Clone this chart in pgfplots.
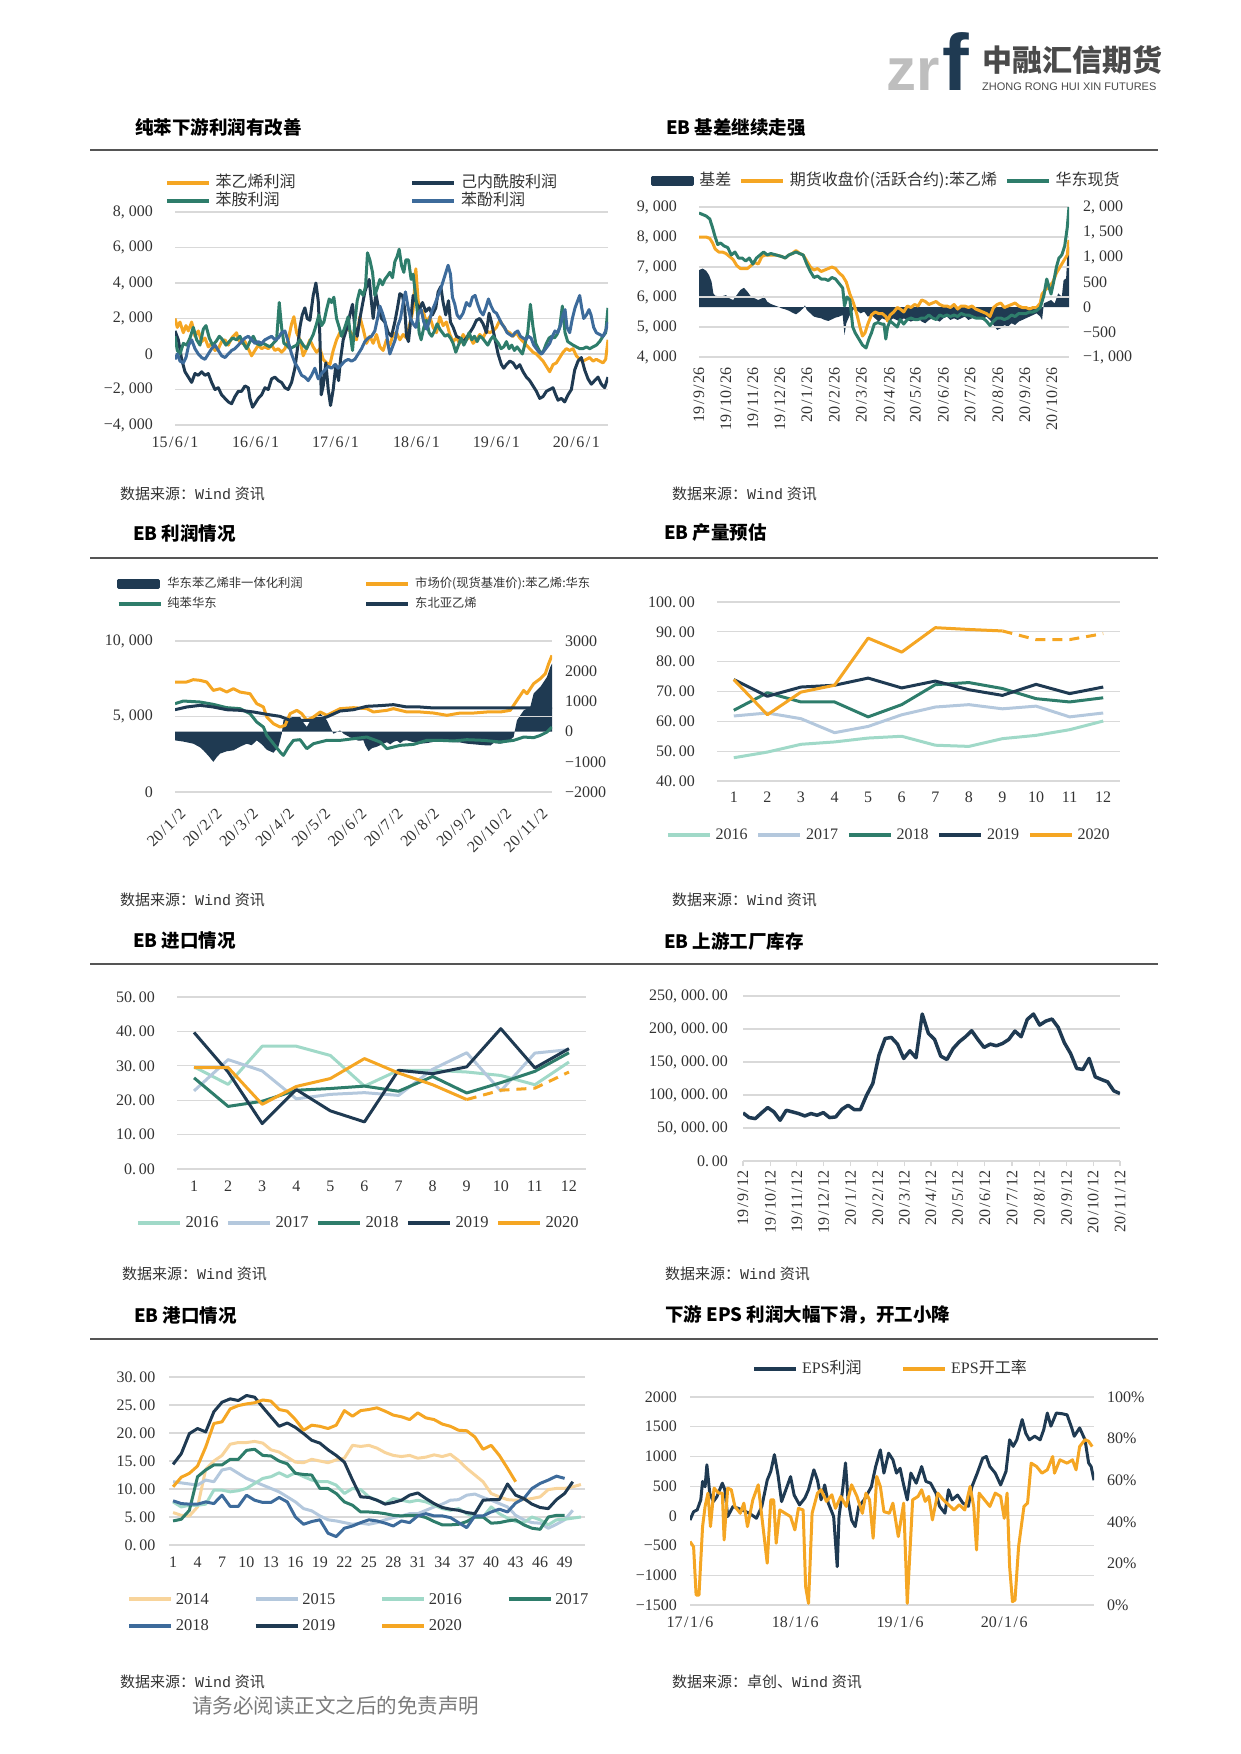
\documentclass[border=0pt]{standalone}
\usepackage{fontspec}
\setmainfont{Liberation Serif}
\setmonofont{Liberation Mono}
\newfontfamily\cjk{Noto Sans CJK SC}
\newfontfamily\logofont{Liberation Sans}
\usepackage{pgfplots}
\pgfplotsset{compat=1.18}
\usepgfplotslibrary{fillbetween}

\definecolor{navy}{HTML}{1F3A52}
\definecolor{orng}{HTML}{F5A623}
\definecolor{grn}{HTML}{2E7D6B}
\definecolor{stb}{HTML}{3D6B9B}
\definecolor{mint}{HTML}{A0D9C8}
\definecolor{lgb}{HTML}{B4C8DD}
\definecolor{peach}{HTML}{F8D49B}
\definecolor{gridc}{HTML}{D9D9D9}
\definecolor{txt}{HTML}{333333}
\definecolor{rulec}{HTML}{555555}
\definecolor{logog}{HTML}{BEBEBE}
\definecolor{logot}{HTML}{4A4A4A}
\definecolor{foot}{HTML}{7A7A7A}

\newcommand\tickf{\fontsize{16}{16}\selectfont}
\newcommand\titlef{\cjk\bfseries\fontsize{18.5}{18.5}\selectfont}
\newcommand\srcf{\fontsize{15}{15}\selectfont}
\newcommand\src[1]{{\cjk 数据来源：#1}{\ttfamily Wind} {\cjk 资讯}}
\newcommand\slh{\kern1.5pt/\kern1.5pt}

\pgfplotsset{
  base/.style={
    scale only axis, anchor=south west,
    axis line style={draw=none},
    tick style={draw=none},
    major tick length=0pt,
    scaled ticks=false,
    ymajorgrids,
    major grid style={draw=gridc, line width=1.2pt},
    tick label style={font=\tickf, text=txt},
    yticklabel style={anchor=east, inner sep=0pt},
    xticklabel style={anchor=north, inner sep=0pt},
    legend cell align=left,
    legend style={draw=none, fill=none, inner sep=0pt, outer sep=0pt, text=txt, anchor=west,
      nodes={inner sep=0pt}},
    legend image code/.code={\draw[##1, line width=3.5pt] (0pt,0pt) -- (42pt,0pt);},
    every axis plot/.append style={line width=3pt, line join=round, mark=none},
    clip mode=individual,
  },
}

\begin{document}
\begin{tikzpicture}[x=1pt, y=1pt]
\path (0,0) rectangle (1240,-1754);

% logo
\node[anchor=base west, inner sep=0, text=logog] at (886,-90) {\logofont\bfseries\fontsize{60}{60}\selectfont zr};
\node[anchor=base west, inner sep=0, text=navy] at (942,-90) {\logofont\bfseries\fontsize{80}{80}\selectfont f};
\node[anchor=west, inner sep=0, text=logot] at (982,-60) {\cjk\bfseries\fontsize{30}{30}\selectfont 中融汇信期货};
\node[anchor=base west, inner sep=0, text=logot] at (982,-90) {\logofont\fontsize{11}{11}\selectfont ZHONG RONG HUI XIN FUTURES};

% section titles and rules
\foreach \y in {150,558,964,1339} {\draw[rulec, line width=1.6pt] (90,-\y) -- (1158,-\y);}
\node[anchor=west, inner sep=0] at (135,-127) {\titlef 纯苯下游利润有改善};
\node[anchor=west, inner sep=0] at (666,-127) {\titlef EB 基差继续走强};
\node[anchor=west, inner sep=0] at (133,-533) {\titlef EB 利润情况};
\node[anchor=west, inner sep=0] at (664,-533) {\titlef EB 产量预估};
\node[anchor=west, inner sep=0] at (133,-941) {\titlef EB 进口情况};
\node[anchor=west, inner sep=0] at (664,-941) {\titlef EB 上游工厂库存};
\node[anchor=west, inner sep=0] at (134,-1315) {\titlef EB 港口情况};
\node[anchor=west, inner sep=0] at (665,-1315) {\titlef 下游 EPS 利润大幅下滑，开工小降};

% sources
\node[anchor=west, inner sep=0, text=txt, font=\srcf] at (120,-494) {\src{}};
\node[anchor=west, inner sep=0, text=txt, font=\srcf] at (672,-494) {\src{}};
\node[anchor=west, inner sep=0, text=txt, font=\srcf] at (120,-900) {\src{}};
\node[anchor=west, inner sep=0, text=txt, font=\srcf] at (672,-900) {\src{}};
\node[anchor=west, inner sep=0, text=txt, font=\srcf] at (122,-1274) {\src{}};
\node[anchor=west, inner sep=0, text=txt, font=\srcf] at (665,-1274) {\src{}};
\node[anchor=west, inner sep=0, text=txt, font=\srcf] at (120,-1682) {\src{}};
\node[anchor=west, inner sep=0, text=txt, font=\srcf] at (672,-1682) {\src{卓创、}};
\node[anchor=west, inner sep=0, text=foot] at (192,-1706) {\cjk\fontsize{20.5}{20.5}\selectfont 请务必阅读正文之后的免责声明};

% ===== chart 1 =====
\begin{axis}[base, at={(175pt,-425pt)}, width=433pt, height=213pt,
  xmin=225, xmax=1525, ymin=-4000, ymax=8000,
  xtick={225,467,707,950,1190,1430},
  xticklabels={15\slh6\slh1,16\slh6\slh1,17\slh6\slh1,18\slh6\slh1,19\slh6\slh1,20\slh6\slh1},
  xticklabel style={yshift=-12pt},
  ytick={-4000,-2000,0,2000,4000,6000,8000},
  yticklabels={{−4, 000},{−2, 000},0,{2, 000},{4, 000},{6, 000},{8, 000}},
  yticklabel style={xshift=-22pt},
  legend columns=2,
  legend style={at={(-0.023,1.094)}, font=\fontsize{16}{16}\selectfont, row sep=3.6pt,
    nodes={text height=12pt, text depth=2.4pt},
    /tikz/every odd column/.append style={column sep=5pt},
    /tikz/every even column/.append style={column sep=115pt}},
]
\addplot[orng] coordinates {(225,2000)(232,1500)(240,1800)(250,1200)(258,1600)(265,1300)(275,1800)(285,1000)(295,1300)(305,700)(315,900)(325,400)(335,600)(345,200)(355,300)(365,700)(375,800)(385,500)(395,900)(405,1100)(410,1200)(415,800)(425,600)(435,700)(445,300)(455,-100)(465,200)(475,500)(485,300)(495,400)(505,300)(515,500)(525,200)(535,300)(545,100)(555,300)(565,800)(575,1700)(582,2100)(590,1200)(600,800)(610,-100)(620,300)(630,800)(640,400)(650,100)(660,300)(670,-300)(680,-500)(690,-600)(700,200)(710,800)(720,1200)(730,1000)(740,1500)(750,1300)(760,1000)(770,800)(780,2100)(790,1400)(800,600)(810,1000)(820,600)(830,1100)(840,400)(850,200)(860,800)(870,500)(880,1100)(890,1200)(900,800)(910,1100)(920,900)(930,1700)(940,2500)(948,4800)(955,3000)(962,2500)(970,2400)(980,1800)(990,2100)(1000,1500)(1010,1200)(1020,2100)(1030,1600)(1040,1800)(1050,1100)(1060,700)(1070,900)(1080,600)(1090,1100)(1100,800)(1110,1000)(1120,600)(1130,800)(1140,1100)(1150,900)(1160,1300)(1170,1200)(1180,1300)(1190,1500)(1200,1900)(1210,1600)(1220,1300)(1230,1200)(1240,1000)(1250,1200)(1260,900)(1270,700)(1280,500)(1290,300)(1300,100)(1310,0)(1320,-200)(1330,-400)(1340,-700)(1350,-1000)(1360,-600)(1370,-500)(1380,-200)(1390,100)(1400,300)(1410,200)(1420,300)(1430,-100)(1440,-300)(1450,-400)(1460,-300)(1470,-200)(1480,-400)(1490,-300)(1500,-400)(1510,-500)(1518,-300)(1525,800)};
\addlegendentry{\cjk 苯乙烯利润}
\addplot[navy] coordinates {(225,1300)(235,800)(245,-300)(255,-1000)(265,-1300)(275,-1600)(285,-1100)(295,-1200)(305,-1000)(315,-1200)(325,-1100)(335,-1600)(345,-2000)(355,-1900)(365,-2300)(375,-2500)(385,-2700)(395,-2800)(405,-2400)(415,-2100)(425,-2100)(435,-1800)(445,-1900)(450,-2500)(458,-3000)(465,-2800)(475,-2500)(485,-2300)(495,-1900)(505,-2000)(515,-1400)(525,-1300)(535,-1500)(545,-1600)(555,-1900)(565,-2000)(575,-1600)(585,-800)(592,200)(600,1500)(607,2200)(615,2600)(622,2000)(630,1900)(640,3300)(648,4000)(655,3000)(660,1000)(664,-2300)(670,-1800)(678,-500)(685,-2000)(692,-2900)(700,-2000)(708,-600)(716,-1500)(722,-300)(730,800)(740,1400)(750,2200)(758,2800)(765,1500)(772,1000)(780,2000)(788,2800)(795,3500)(802,3900)(808,4200)(815,2900)(820,2000)(828,3400)(836,2600)(845,2000)(855,1800)(865,1200)(875,1000)(885,1800)(893,2600)(900,3400)(908,3300)(915,2500)(920,1000)(926,700)(932,1800)(940,3300)(948,3000)(958,2500)(968,2900)(978,2400)(988,2600)(998,2200)(1008,2600)(1015,3500)(1023,3800)(1030,2900)(1038,2200)(1046,3000)(1052,1800)(1060,1500)(1070,1000)(1080,900)(1090,700)(1100,900)(1110,1200)(1120,1500)(1130,1900)(1140,2000)(1150,1700)(1160,1200)(1168,2300)(1175,1800)(1185,900)(1195,0)(1205,-600)(1212,-800)(1220,-600)(1230,-400)(1240,-500)(1250,-800)(1260,-600)(1270,-1000)(1280,-1300)(1290,-1500)(1300,-1800)(1310,-2100)(1320,-2500)(1330,-2400)(1340,-2100)(1350,-2000)(1360,-1900)(1368,-2300)(1375,-2600)(1385,-2500)(1395,-2700)(1405,-2300)(1415,-2000)(1425,-900)(1435,-400)(1445,-200)(1455,-900)(1465,-1400)(1475,-1700)(1485,-1500)(1495,-1300)(1505,-1700)(1515,-1900)(1525,-1300)};
\addlegendentry{\cjk 己内酰胺利润}
\addplot[grn] coordinates {(225,1000)(232,200)(240,0)(250,600)(260,500)(270,900)(280,1500)(290,800)(300,500)(310,1400)(318,1600)(328,900)(338,500)(348,700)(358,1000)(368,800)(378,500)(388,700)(398,900)(410,800)(420,1000)(430,600)(440,300)(450,700)(460,1000)(470,600)(480,500)(490,600)(500,500)(510,400)(520,600)(530,800)(538,2900)(545,1500)(552,600)(560,500)(570,300)(580,400)(590,500)(600,800)(610,500)(620,300)(630,700)(640,1100)(650,1700)(657,2200)(665,1600)(672,1800)(680,2500)(688,3100)(695,2900)(702,3200)(710,2000)(718,1500)(725,1000)(735,1500)(745,2100)(752,1000)(758,200)(765,1800)(772,3000)(780,3600)(790,3300)(797,3800)(803,5700)(810,5300)(818,4600)(825,3300)(832,3700)(840,4200)(848,3900)(855,4200)(863,4400)(870,4600)(878,4300)(885,5200)(892,5500)(898,5900)(905,5000)(912,4600)(918,5300)(926,5300)(934,4200)(940,4500)(946,3500)(952,2500)(958,1200)(964,800)(972,1500)(980,1900)(988,1200)(996,1000)(1004,1300)(1012,1700)(1020,1400)(1028,1200)(1036,1000)(1044,1100)(1052,900)(1060,600)(1068,100)(1076,500)(1084,900)(1092,500)(1100,800)(1108,1200)(1116,800)(1124,1000)(1132,700)(1140,1000)(1148,900)(1156,700)(1164,500)(1172,800)(1180,1000)(1188,800)(1196,600)(1204,300)(1212,400)(1220,700)(1228,300)(1236,500)(1244,200)(1252,400)(1260,200)(1268,0)(1276,600)(1284,1200)(1292,2800)(1300,1500)(1308,600)(1316,300)(1324,0)(1332,200)(1340,600)(1348,900)(1356,1000)(1364,900)(1372,1100)(1380,1500)(1388,2700)(1396,1200)(1404,700)(1412,600)(1420,500)(1430,400)(1440,300)(1450,300)(1460,400)(1470,300)(1480,400)(1490,500)(1500,700)(1510,1000)(1518,1200)(1525,2600)};
\addlegendentry{\cjk 苯胺利润}
\addplot[stb] coordinates {(225,-300)(232,0)(240,-400)(250,-500)(258,-200)(266,500)(275,800)(285,300)(295,0)(305,-200)(315,-300)(325,0)(335,300)(345,500)(355,200)(365,-100)(375,-200)(385,0)(395,200)(405,300)(415,500)(425,700)(435,900)(445,1000)(455,800)(465,600)(475,700)(485,600)(495,800)(505,900)(515,1000)(525,800)(535,900)(545,1200)(555,1300)(565,700)(575,0)(585,-500)(595,-800)(605,-1200)(615,-1300)(625,-1500)(635,-1200)(645,-800)(655,-1400)(665,-1100)(675,-900)(685,-700)(695,-800)(705,-600)(715,-800)(725,-600)(735,-400)(745,-300)(755,-400)(765,-300)(775,0)(785,300)(795,700)(805,900)(815,1000)(825,1300)(833,2000)(840,2700)(848,2300)(856,1800)(864,600)(870,0)(878,400)(886,800)(894,1600)(902,2000)(910,2900)(917,3500)(924,2700)(932,2000)(940,1700)(948,1500)(956,2300)(964,2500)(972,1800)(980,1400)(988,1800)(996,2400)(1005,2800)(1015,3300)(1025,3800)(1035,4400)(1045,5000)(1052,4500)(1058,3200)(1065,2800)(1072,2200)(1080,2000)(1090,2300)(1100,2900)(1110,2700)(1118,3200)(1126,3300)(1134,2800)(1142,2400)(1150,2200)(1158,2600)(1166,3100)(1174,2700)(1182,2400)(1190,2300)(1198,2000)(1206,1700)(1214,1500)(1222,1200)(1230,1100)(1238,1000)(1246,1200)(1254,1300)(1262,1000)(1270,900)(1278,800)(1286,1000)(1294,900)(1302,500)(1310,300)(1318,100)(1326,0)(1334,200)(1342,400)(1350,600)(1358,1000)(1366,1300)(1374,1200)(1382,1600)(1390,2200)(1396,2500)(1402,1500)(1410,1200)(1418,2000)(1426,2600)(1434,3000)(1440,3300)(1446,2600)(1452,2000)(1460,2200)(1468,2500)(1474,2200)(1482,1500)(1490,1200)(1500,1100)(1510,1000)(1518,1300)(1525,1800)};
\addlegendentry{\cjk 苯酚利润}
\end{axis}

% ===== chart 2 =====
\begin{axis}[base, at={(699pt,-357pt)}, width=370pt, height=150pt,
  xmin=220, xmax=1250, ymin=4000, ymax=9000,
  xtick={220,295,370,445,520,597,672,750,822,900,975,1052,1127,1202},
  xticklabels={19\slh9\slh26,19\slh10\slh26,19\slh11\slh26,19\slh12\slh26,20\slh1\slh26,20\slh2\slh26,20\slh3\slh26,20\slh4\slh26,20\slh5\slh26,20\slh6\slh26,20\slh7\slh26,20\slh8\slh26,20\slh9\slh26,20\slh10\slh26},
  xticklabel style={yshift=-10pt, rotate=90, anchor=east},
  ytick={4000,5000,6000,7000,8000,9000},
  yticklabels={{4, 000},{5, 000},{6, 000},{7, 000},{8, 000},{9, 000}},
  yticklabel style={xshift=-22pt},
]
\addplot[draw=none] coordinates {(220,4000)(1250,9000)};
\end{axis}
\begin{axis}[base, at={(699pt,-357pt)}, width=370pt, height=150pt,
  xmin=220, xmax=1250, ymin=-1000, ymax=2000, ymajorgrids=false,
  xtick=\empty, ytick={-1000,-500,0,500,1000,1500,2000},
  yticklabels={{−1, 000},−500,0,500,{1, 000},{1, 500},{2, 000}},
  yticklabel pos=right, yticklabel style={anchor=west, xshift=14pt},
]
\addplot[draw=none, name path=jc] coordinates {(220,737)(230,770)(240,724)(248,637)(255,505)(260,272)(265,226)(280,206)(295,239)(305,173)(315,140)(325,239)(335,339)(345,385)(355,305)(365,206)(375,173)(385,140)(395,173)(400,226)(410,106)(420,60)(430,33)(440,7)(450,-27)(460,-46)(470,-73)(480,-113)(490,-146)(500,-93)(510,-27)(515,33)(520,-60)(530,-126)(540,-193)(550,-212)(560,-226)(570,-259)(580,-279)(590,-246)(600,-212)(610,-193)(620,-160)(625,-558)(630,-325)(640,-160)(650,-46)(660,-73)(670,-126)(680,-93)(690,-193)(700,-160)(710,-226)(720,-292)(730,-226)(740,-259)(750,-292)(760,-226)(770,-259)(780,-292)(790,-226)(800,-259)(810,-292)(820,-259)(830,-226)(840,-292)(850,-325)(860,-259)(870,-226)(880,-259)(890,-292)(900,-226)(910,-193)(920,-259)(930,-226)(940,-259)(950,-226)(960,-193)(970,-259)(980,-226)(990,-193)(1000,-226)(1010,-259)(1020,-193)(1030,-259)(1040,-359)(1050,-458)(1060,-425)(1070,-359)(1080,-392)(1090,-325)(1100,-359)(1110,-292)(1120,-259)(1130,-226)(1140,-193)(1150,-160)(1160,-126)(1170,-193)(1175,-259)(1180,73)(1190,106)(1200,140)(1210,73)(1220,272)(1230,206)(1235,538)(1242,571)(1246,1135)(1250,1202)};
\addplot[draw=none, name path=z2] coordinates {(220,0)(1250,0)};
\addplot[fill=navy, draw=none] fill between[of=jc and z2];
\end{axis}
\begin{axis}[base, at={(699pt,-357pt)}, width=370pt, height=150pt,
  xmin=220, xmax=1250, ymin=4000, ymax=9000, ymajorgrids=false,
  xtick=\empty, ytick=\empty,
  legend columns=-1,
  legend style={at={(-0.129,1.173)}, font=\fontsize{16}{16}\selectfont,
    nodes={text height=12pt, text depth=2.4pt},
    /tikz/every odd column/.append style={column sep=5pt},
    /tikz/every even column/.append style={column sep=8pt}},
]
\addlegendimage{legend image code/.code={\fill[navy] (0pt,-3.5pt) rectangle (40pt,3.5pt);}}
\addlegendentry{\cjk 基差}
\addplot[orng] coordinates {(220,8000)(230,8000)(240,8000)(250,7950)(258,7800)(265,7600)(275,7500)(285,7500)(295,7450)(305,7350)(315,7250)(325,7050)(335,6950)(345,6950)(355,6950)(365,7050)(375,7150)(385,7100)(395,7350)(405,7400)(420,7400)(435,7400)(450,7350)(460,7300)(470,7400)(480,7450)(490,7550)(500,7450)(510,7400)(520,7200)(530,7000)(540,6900)(550,6950)(560,6850)(570,6900)(580,6950)(590,7000)(600,6950)(610,6800)(620,6700)(630,6500)(640,6100)(650,5800)(660,5400)(668,5000)(675,4700)(682,4800)(690,5100)(700,5400)(710,5500)(720,5450)(730,5450)(740,5350)(745,5200)(752,5400)(762,5500)(772,5650)(780,5600)(790,5500)(800,5700)(810,5650)(820,5750)(830,5700)(840,5900)(850,5850)(860,5750)(870,5800)(880,5850)(890,5750)(900,5700)(910,5700)(920,5650)(930,5750)(940,5600)(950,5700)(960,5700)(970,5650)(980,5700)(990,5600)(1000,5550)(1010,5500)(1020,5450)(1030,5350)(1040,5650)(1050,5750)(1060,5800)(1070,5650)(1080,5700)(1090,5750)(1100,5800)(1110,5700)(1120,5650)(1130,5650)(1140,5600)(1150,5650)(1160,5650)(1170,5800)(1175,6100)(1185,6250)(1195,6350)(1205,6500)(1215,6800)(1225,7000)(1235,7200)(1245,7400)(1250,7900)};
\addlegendentry{{\cjk 期货收盘价(活跃合约):苯乙烯}\hspace{12pt}}
\addplot[grn] coordinates {(220,8800)(230,8750)(240,8700)(250,8600)(258,8300)(265,8000)(272,7750)(280,7800)(290,7700)(300,7650)(310,7400)(320,7500)(330,7300)(340,7300)(350,7200)(360,7300)(370,7100)(380,7300)(390,7400)(400,7500)(410,7400)(420,7450)(435,7400)(450,7350)(460,7300)(470,7400)(480,7450)(490,7500)(500,7450)(510,7400)(520,7100)(530,6850)(540,6650)(550,6700)(560,6600)(570,6600)(580,6550)(590,6650)(600,6600)(610,6450)(620,6300)(625,5700)(632,6000)(640,5900)(648,5000)(655,4800)(665,4600)(675,4400)(685,4300)(693,4600)(700,4800)(708,5100)(718,5150)(728,5100)(735,5100)(740,4600)(745,5000)(752,5200)(762,5100)(772,5000)(780,5250)(790,5100)(800,5250)(810,5300)(820,5250)(830,5250)(840,5300)(850,5300)(860,5400)(870,5300)(880,5250)(890,5400)(900,5350)(910,5400)(920,5350)(930,5400)(940,5350)(950,5450)(960,5400)(970,5400)(980,5350)(990,5300)(1000,5300)(1010,5300)(1020,5200)(1030,5050)(1040,5200)(1050,5300)(1060,5300)(1070,5250)(1080,5300)(1090,5400)(1100,5350)(1110,5450)(1120,5450)(1130,5450)(1140,5500)(1150,5500)(1160,5550)(1170,5650)(1180,6050)(1188,6600)(1195,6300)(1200,6100)(1208,6550)(1215,7000)(1222,7300)(1230,7400)(1238,7700)(1245,8300)(1250,9000)};
\addlegendentry{\cjk 华东现货}
\end{axis}

% ===== chart 3 =====
\begin{axis}[base, at={(175pt,-792pt)}, width=377pt, height=151pt,
  xmin=225, xmax=1355, ymin=0, ymax=10000,
  xtick={225,333.5,442,550.5,659,767.5,876,984.5,1093,1201.5,1310},
  xticklabels={20\slh1\slh2,20\slh2\slh2,20\slh3\slh2,20\slh4\slh2,20\slh5\slh2,20\slh6\slh2,20\slh7\slh2,20\slh8\slh2,20\slh9\slh2,20\slh10\slh2,20\slh11\slh2},
  xticklabel style={xshift=4pt, yshift=-15pt, rotate=45, anchor=north east},
  ytick={0,5000,10000}, yticklabels={0,{5, 000},{10, 000}},
  yticklabel style={xshift=-22pt},
]
\addplot[draw=none] coordinates {(225,0)(1355,10000)};
\end{axis}
\begin{axis}[base, at={(175pt,-792pt)}, width=377pt, height=151pt,
  xmin=225, xmax=1355, ymin=-2000, ymax=3000, ymajorgrids=false,
  xtick=\empty, ytick={-2000,-1000,0,1000,2000,3000},
  yticklabels={−2000,−1000,0,1000,2000,3000},
  yticklabel pos=right, yticklabel style={anchor=west, xshift=13pt},
]
\addplot[draw=none, name path=pr] coordinates {(225,-290)(250,-330)(280,-400)(300,-520)(310,-620)(325,-800)(340,-1000)(350,-850)(360,-730)(380,-650)(400,-620)(420,-500)(440,-400)(455,-450)(470,-290)(485,-420)(500,-600)(520,-700)(535,-500)(545,-70)(550,375)(565,450)(580,485)(600,485)(610,300)(620,155)(630,350)(640,485)(660,600)(680,375)(690,150)(700,-70)(720,40)(730,-70)(760,-250)(775,-300)(790,-290)(795,-450)(805,-650)(815,-550)(830,-500)(840,-450)(850,-400)(860,-350)(870,-420)(880,-340)(890,-300)(900,-380)(910,-300)(920,-290)(940,-350)(960,-400)(980,-380)(1000,-340)(1020,-320)(1050,-340)(1080,-360)(1100,-400)(1120,-420)(1150,-450)(1170,-460)(1180,-380)(1200,-400)(1220,-350)(1240,-180)(1250,375)(1270,700)(1290,820)(1300,1260)(1320,1480)(1340,1810)(1350,2140)(1355,2250)};
\addplot[draw=none, name path=z3] coordinates {(225,0)(1355,0)};
\addplot[fill=navy, draw=none] fill between[of=pr and z3];
\end{axis}
\begin{axis}[base, at={(175pt,-792pt)}, width=377pt, height=151pt,
  xmin=225, xmax=1355, ymin=0, ymax=10000, ymajorgrids=false,
  xtick=\empty, ytick=\empty,
  legend columns=2,
  legend style={at={(-0.154,1.311)}, font=\fontsize{12.3}{12.3}\selectfont, row sep=9pt,
    nodes={text height=9.2pt, text depth=1.8pt},
    /tikz/every odd column/.append style={column sep=5pt},
    /tikz/every even column/.append style={column sep=62pt}},
]
\addlegendimage{legend image code/.code={\fill[navy] (0pt,-3.5pt) rectangle (40pt,3.5pt);}}
\addlegendentry{\cjk 华东苯乙烯非一体化利润}
\addplot[orng] coordinates {(225,7285)(260,7285)(280,7440)(300,7395)(320,7285)(340,6730)(360,6840)(380,6620)(400,6840)(420,6620)(450,6510)(470,5850)(490,5630)(500,4970)(520,4525)(540,4300)(555,4415)(570,5190)(590,5410)(605,5190)(620,4745)(640,4970)(660,5300)(680,5080)(700,5300)(720,5520)(760,5585)(800,5520)(820,5300)(860,5410)(880,5520)(920,5300)(960,5300)(1000,5230)(1040,5080)(1080,5230)(1120,5230)(1160,5300)(1200,5300)(1230,5410)(1250,6070)(1270,6730)(1280,6510)(1300,7175)(1320,7505)(1335,7840)(1345,8500)(1355,9050)};
\addlegendentry{\cjk 市场价(现货基准价):苯乙烯:华东}
\addplot[grn] coordinates {(225,5850)(250,6025)(300,5960)(340,5805)(380,5585)(420,5520)(450,5190)(470,4635)(490,4305)(500,3750)(520,3200)(540,2650)(550,2430)(565,2980)(580,3420)(600,3465)(620,2870)(640,3200)(680,3420)(720,3420)(760,3530)(800,3640)(840,3310)(860,2870)(900,3090)(940,3155)(980,3420)(1020,3420)(1060,3380)(1100,3465)(1150,3420)(1200,3310)(1240,3420)(1270,3640)(1300,3600)(1320,3750)(1340,3970)(1355,4305)};
\addlegendentry{\cjk 纯苯华东}
\addplot[navy] coordinates {(225,5450)(260,5630)(300,5740)(340,5630)(380,5450)(420,5410)(460,5300)(500,5145)(540,5010)(570,4745)(600,4745)(640,4745)(680,4970)(720,5365)(760,5450)(800,5675)(840,5720)(880,5785)(920,5630)(960,5630)(1000,5565)(1100,5565)(1200,5565)(1300,5565)(1355,5585)};
\addlegendentry{\cjk 东北亚乙烯}
\end{axis}

% ===== chart 4 =====
\begin{axis}[base, at={(717pt,-781pt)}, width=403pt, height=179pt,
  xmin=0.5, xmax=12.5, ymin=40, ymax=100,
  xtick={1,2,3,4,5,6,7,8,9,10,11,12}, xticklabels={1,2,3,4,5,6,7,8,9,10,11,12},
  xticklabel style={yshift=-11pt},
  ytick={40,50,60,70,80,90,100},
  yticklabels={{40.\,00},{50.\,00},{60.\,00},{70.\,00},{80.\,00},{90.\,00},{100.\,00}},
  yticklabel style={xshift=-22pt},
  legend columns=-1,
  legend style={at={(-0.126,-0.3017)}, font=\fontsize{16}{16}\selectfont,
    nodes={text height=12pt, text depth=2.4pt},
    /tikz/every odd column/.append style={column sep=4pt},
    /tikz/every even column/.append style={column sep=9pt}},
]
\addplot[mint] coordinates {(1,47.8)(2,49.7)(3,52.3)(4,53.1)(5,54.4)(6,55.0)(7,52.0)(8,51.6)(9,54.2)(10,55.3)(11,57.2)(12,60.1)};
\addlegendentry{2016}
\addplot[lgb] coordinates {(1,61.8)(2,62.8)(3,60.9)(4,56.2)(5,58.3)(6,62.2)(7,64.8)(8,65.6)(9,64.2)(10,65.1)(11,61.5)(12,62.8)};
\addlegendentry{2017}
\addplot[grn] coordinates {(1,63.7)(2,69.6)(3,66.5)(4,66.5)(5,61.5)(6,65.6)(7,72.3)(8,73.0)(9,71.0)(10,67.6)(11,66.5)(12,67.9)};
\addlegendentry{2018}
\addplot[navy] coordinates {(1,74.0)(2,68.4)(3,71.5)(4,72.1)(5,74.5)(6,71.2)(7,73.5)(8,70.6)(9,68.7)(10,72.4)(11,69.3)(12,71.5)};
\addlegendentry{2019}
\addplot[orng] coordinates {(1,74.0)(2,62.2)(3,69.8)(4,72.1)(5,87.9)(6,83.2)(7,91.4)(8,90.8)(9,90.3)};
\addlegendentry{2020}
\addplot[orng, dash pattern=on 10pt off 7pt, forget plot] coordinates {(9,90.3)(10,87.4)(11,87.4)(12,89.4)};
\end{axis}

% ===== chart 5 =====
\begin{axis}[base, at={(177pt,-1169pt)}, width=409pt, height=172pt,
  xmin=0.5, xmax=12.5, ymin=0, ymax=50,
  xtick={1,2,3,4,5,6,7,8,9,10,11,12}, xticklabels={1,2,3,4,5,6,7,8,9,10,11,12},
  xticklabel style={yshift=-12pt},
  ytick={0,10,20,30,40,50},
  yticklabels={{0.\,00},{10.\,00},{20.\,00},{30.\,00},{40.\,00},{50.\,00}},
  yticklabel style={xshift=-22pt},
  legend columns=-1,
  legend style={at={(-0.1,-0.314)}, font=\fontsize{16.5}{16.5}\selectfont,
    nodes={text height=12.4pt, text depth=2.5pt},
    /tikz/every odd column/.append style={column sep=4pt},
    /tikz/every even column/.append style={column sep=7.5pt}},
]
\addplot[mint] coordinates {(1,29.7)(2,24.6)(3,35.7)(4,35.7)(5,33.0)(6,24.1)(7,28.7)(8,28.7)(9,28.2)(10,27.2)(11,24.5)(12,31.1)};
\addlegendentry{2016}
\addplot[lgb] coordinates {(1,22.7)(2,31.8)(3,28.5)(4,20.4)(5,21.7)(6,22.2)(7,21.4)(8,29.0)(9,33.8)(10,22.7)(11,33.7)(12,34.7)};
\addlegendentry{2017}
\addplot[grn] coordinates {(1,26.5)(2,18.2)(3,19.7)(4,22.9)(5,23.4)(6,24.1)(7,22.6)(8,26.9)(9,22.1)(10,25.1)(11,28.4)(12,33.8)};
\addlegendentry{2018}
\addplot[navy] coordinates {(1,39.7)(2,28.2)(3,13.2)(4,23.1)(5,16.9)(6,13.7)(7,28.7)(8,27.7)(9,29.7)(10,40.8)(11,29.4)(12,35.0)};
\addlegendentry{2019}
\addplot[orng] coordinates {(1,29.5)(2,29.5)(3,18.8)(4,24.0)(5,26.3)(6,32.1)(7,27.9)(8,24.5)(9,20.2)};
\addlegendentry{2020}
\addplot[orng, dash pattern=on 10pt off 7pt, forget plot] coordinates {(9,20.2)(10,22.9)(11,23.5)(12,28.2)};
\end{axis}

% ===== chart 6 =====
\begin{axis}[base, at={(743pt,-1161pt)}, width=377pt, height=165pt,
  xmin=0, xmax=61, ymin=0, ymax=250000,
  xtick={0,4.41,8.71,13.06,17.41,21.82,26.12,30.41,34.71,39.12,43.53,47.94,52.35,56.65,61},
  xticklabels={19\slh9\slh12,19\slh10\slh12,19\slh11\slh12,19\slh12\slh12,20\slh1\slh12,20\slh2\slh12,20\slh3\slh12,20\slh4\slh12,20\slh5\slh12,20\slh6\slh12,20\slh7\slh12,20\slh8\slh12,20\slh9\slh12,20\slh10\slh12,20\slh11\slh12},
  xtick pos=bottom, tick align=outside, major tick length=5pt,
  xtick style={draw=gridc, line width=1.2pt}, ytick style={draw=none},
  xticklabel style={yshift=-4pt, rotate=90, anchor=east},
  ytick={0,50000,100000,150000,200000,250000},
  yticklabels={{0.\,00},{50, 000.\,00},{100, 000.\,00},{150, 000.\,00},{200, 000.\,00},{250, 000.\,00}},
  yticklabel style={xshift=-10pt},
]
\addplot[navy, line width=3.5pt] coordinates {(0,72900)(1,65800)(2,64300)(3,72900)(4,81000)(5,74400)(6,61700)(7,76900)(8,74400)(9,71900)(10,68300)(11,71900)(12,69300)(13,73400)(14,65800)(15,66800)(16,78400)(17,84500)(18,77900)(19,77900)(20,99700)(21,117400)(22,160400)(23,185700)(24,187200)(25,177100)(26,155400)(27,167000)(28,156400)(29,222700)(30,193300)(31,184200)(32,158900)(33,153800)(34,170500)(35,180700)(36,188300)(37,197400)(38,184200)(39,172100)(40,177100)(41,174600)(42,178100)(43,184200)(44,196900)(45,188300)(46,214600)(47,222700)(48,206000)(49,212000)(50,215100)(51,202400)(52,179100)(53,163000)(54,140200)(55,138700)(56,155400)(57,127500)(58,123500)(59,119900)(60,106300)(61,102200)};
\end{axis}

% ===== chart 7 =====
\begin{axis}[base, at={(169pt,-1545pt)}, width=416pt, height=168pt,
  xmin=0.5, xmax=51.5, ymin=0, ymax=30,
  xtick={1,4,7,10,13,16,19,22,25,28,31,34,37,40,43,46,49},
  xticklabels={1,4,7,10,13,16,19,22,25,28,31,34,37,40,43,46,49},
  xticklabel style={yshift=-12pt},
  ytick={0,5,10,15,20,25,30},
  yticklabels={{0.\,00},{5.\,00},{10.\,00},{15.\,00},{20.\,00},{25.\,00},{30.\,00}},
  yticklabel style={xshift=-13.5pt},
  legend columns=4,
  legend style={at={(-0.1,-0.402)}, font=\fontsize{16.5}{16.5}\selectfont, row sep=12pt,
    nodes={text height=12.4pt, text depth=2.5pt},
    /tikz/every odd column/.append style={column sep=3pt},
    /tikz/every even column/.append style={column sep=45pt}},
]
\addplot[peach] coordinates {(1,5.8)(2,5.3)(3,5.2)(4,6.8)(5,13.5)(6,15.0)(7,16.0)(8,18.0)(9,18.3)(10,18.3)(11,18.5)(12,18.2)(13,17.0)(14,16.6)(15,15.7)(16,14.8)(17,14.7)(18,15.3)(19,15.0)(20,14.7)(21,15.2)(22,15.5)(23,17.8)(24,17.6)(25,17.8)(26,17.3)(27,16.5)(28,16.0)(29,15.8)(30,16.0)(31,15.5)(32,15.7)(33,16.1)(34,15.8)(35,16.2)(36,15.1)(37,13.7)(38,12.5)(39,11.3)(40,9.2)(41,8.6)(42,8.1)(43,8.0)(44,8.1)(45,8.3)(46,8.6)(47,9.9)(48,10.1)(49,10.1)(50,10.4)(51,10.8)};
\addlegendentry{2014}
\addplot[lgb] coordinates {(1,11.3)(2,11.1)(3,10.9)(4,10.7)(5,11.6)(6,11.3)(7,13.4)(8,13.7)(9,12.8)(10,11.9)(11,11.3)(12,10.7)(13,10.1)(14,9.5)(15,8.6)(16,7.7)(17,6.5)(18,6.1)(19,5.2)(20,4.5)(21,4.3)(22,4.0)(23,3.7)(24,3.9)(25,3.7)(26,4.0)(27,4.5)(28,4.9)(29,5.2)(30,5.6)(31,5.6)(32,6.2)(33,6.8)(34,7.3)(35,8.0)(36,8.1)(37,8.9)(38,9.1)(39,8.5)(40,8.0)(41,7.4)(42,6.8)(43,5.3)(44,4.5)(45,4.0)(46,3.9)(47,3.0)(48,3.7)(49,4.5)(50,6.2)};
\addlegendentry{2015}
\addplot[mint] coordinates {(1,7.7)(2,6.8)(3,7.1)(4,7.1)(5,7.3)(6,9.8)(7,9.8)(8,9.5)(9,9.7)(10,10.1)(11,11.0)(12,11.9)(13,12.2)(14,12.9)(15,12.2)(16,12.9)(17,12.2)(18,11.6)(19,11.3)(20,11.3)(21,10.7)(22,9.2)(23,10.1)(24,9.9)(25,8.6)(26,8.0)(27,7.4)(28,8.3)(29,8.0)(30,7.7)(31,8.0)(32,7.7)(33,7.1)(34,6.5)(35,6.2)(36,6.5)(37,5.6)(38,5.0)(39,5.0)(40,6.8)(41,5.6)(42,4.8)(43,4.2)(44,4.0)(45,5.0)(46,4.5)(47,3.6)(48,4.5)(49,4.6)(50,4.8)(51,5.0)};
\addlegendentry{2016}
\addplot[grn] coordinates {(1,4.3)(2,4.6)(3,6.2)(4,12.2)(5,13.4)(6,14.3)(7,14.3)(8,15.3)(9,15.3)(10,16.9)(11,17.1)(12,16.0)(13,15.9)(14,15.0)(15,14.5)(16,12.8)(17,12.6)(18,12.5)(19,10.1)(20,10.1)(21,9.2)(22,7.7)(23,7.1)(24,5.9)(25,5.9)(26,5.8)(27,5.6)(28,5.3)(29,5.2)(30,5.3)(31,5.3)(32,4.9)(33,4.2)(34,3.6)(35,3.6)(36,3.7)(37,4.2)(38,5.0)(39,5.0)(40,3.9)(41,4.0)(42,4.3)(43,4.5)(44,3.6)(45,3.0)(46,2.8)(47,5.0)(48,5.3)(49,5.3)};
\addlegendentry{2017}
\addplot[stb] coordinates {(1,7.9)(2,7.4)(3,7.3)(4,7.3)(5,7.7)(6,7.4)(7,8.9)(8,6.9)(9,6.9)(10,8.9)(11,8.0)(12,7.6)(13,7.6)(14,8.5)(15,7.7)(16,5.0)(17,3.7)(18,4.2)(19,4.5)(20,2.1)(21,1.5)(22,3.0)(23,3.4)(24,4.0)(25,4.5)(26,4.3)(27,3.9)(28,3.4)(29,4.3)(30,4.0)(31,5.2)(32,5.6)(33,5.2)(34,5.2)(35,4.9)(36,4.0)(37,3.1)(38,5.2)(39,5.2)(40,5.9)(41,6.4)(42,5.9)(43,7.5)(44,8.3)(45,10.1)(46,11.0)(47,11.6)(48,12.3)(49,11.9)};
\addlegendentry{2018}
\addplot[navy] coordinates {(1,14.4)(2,16.3)(3,19.9)(4,20.8)(5,20.2)(6,23.8)(7,25.5)(8,26.1)(9,25.8)(10,26.7)(11,26.4)(12,24.6)(13,22.9)(14,21.2)(15,21.8)(16,21.0)(17,19.9)(18,18.7)(19,18.2)(20,17.0)(21,16.0)(22,14.8)(23,11.6)(24,8.6)(25,8.5)(26,8.0)(27,7.3)(28,7.6)(29,8.0)(30,8.9)(31,9.3)(32,8.3)(33,7.4)(34,6.7)(35,6.4)(36,6.2)(37,5.8)(38,5.6)(39,8.0)(40,8.1)(41,8.1)(42,10.9)(43,8.9)(44,8.3)(45,7.3)(46,6.7)(47,6.5)(48,8.1)(49,9.2)(50,11.3)};
\addlegendentry{2019}
\addplot[orng] coordinates {(1,10.4)(2,12.1)(3,12.8)(4,14.1)(5,17.5)(6,21.7)(7,22.0)(8,24.3)(9,24.9)(10,25.2)(11,25.4)(12,25.9)(13,25.7)(14,24.2)(15,23.9)(16,22.4)(17,20.5)(18,21.4)(19,21.2)(20,20.8)(21,21.4)(22,24.0)(23,23.0)(24,24.0)(25,24.2)(26,24.5)(27,23.9)(28,23.2)(29,22.9)(30,22.4)(31,23.6)(32,22.7)(33,22.4)(34,21.6)(35,21.2)(36,20.5)(37,20.4)(38,19.3)(39,17.1)(40,17.8)(41,16.0)(42,13.7)(43,11.3)};
\addlegendentry{2020}
\end{axis}

% ===== chart 8 =====
\begin{axis}[base, at={(690pt,-1605pt)}, width=404pt, height=208pt,
  xmin=195, xmax=1320, ymin=-1500, ymax=2000,
  xtick={195,488,780,1070}, xticklabels={17\slh1\slh6,18\slh1\slh6,19\slh1\slh6,20\slh1\slh6},
  xticklabel style={yshift=-12pt},
  ytick={-1500,-1000,-500,0,500,1000,1500,2000},
  yticklabels={−1500,−1000,−500,0,500,1000,1500,2000},
  yticklabel style={xshift=-13pt},
]
\addplot[navy] coordinates {(195,-70)(205,70)(215,100)(225,270)(230,580)(237,490)(242,860)(250,380)(260,240)(270,325)(285,550)(292,440)(300,-10)(315,160)(340,100)(360,45)(380,-40)(395,160)(410,600)(420,750)(430,1030)(440,690)(450,240)(465,490)(475,660)(485,350)(500,185)(515,300)(525,440)(540,775)(550,600)(560,270)(570,520)(580,215)(595,-10)(605,-855)(610,-10)(620,440)(628,890)(635,270)(645,-70)(655,-180)(665,160)(680,270)(700,490)(712,830)(725,1110)(735,720)(748,1055)(760,945)(770,720)(780,800)(790,520)(800,270)(810,720)(825,550)(840,830)(852,580)(865,550)(880,380)(890,160)(905,45)(915,440)(925,270)(940,350)(955,215)(970,160)(980,490)(995,720)(1010,970)(1020,1000)(1030,830)(1045,720)(1060,520)(1075,750)(1085,1280)(1095,1170)(1105,1280)(1120,1620)(1130,1390)(1140,1280)(1155,1340)(1170,1280)(1180,1450)(1190,1730)(1200,1510)(1215,1730)(1230,1720)(1245,1700)(1258,1480)(1265,1340)(1280,1480)(1295,1280)(1305,890)(1312,830)(1320,600)};
\end{axis}
\begin{axis}[base, at={(690pt,-1605pt)}, width=404pt, height=208pt,
  xmin=195, xmax=1320, ymin=0, ymax=100, ymajorgrids=false,
  xtick=\empty, ytick={0,20,40,60,80,100},
  yticklabels={0\%,20\%,40\%,60\%,80\%,100\%},
  yticklabel pos=right, yticklabel style={anchor=west, xshift=13pt},
  legend columns=-1,
  legend style={at={(0.155,1.135)}, font=\fontsize{16}{16}\selectfont,
    nodes={text height=12pt, text depth=2.4pt},
    /tikz/every odd column/.append style={column sep=4pt},
    /tikz/every even column/.append style={column sep=40pt}},
]
\addlegendimage{navy}
\addlegendentry{EPS{\cjk 利润}}
\addplot[orng] coordinates {(195,30.5)(205,28)(212,4.8)(220,4.8)(230,37.7)(237,47.4)(245,53.8)(252,37.7)(262,56.2)(275,53.8)(285,53.8)(290,31.3)(300,56.2)(310,55.4)(320,47.4)(335,44.1)(345,49.0)(355,37.7)(370,50.6)(385,57.8)(395,42.5)(410,20.1)(420,50.6)(428,50.6)(435,29.7)(445,45.7)(460,44.1)(475,42.5)(487,36.1)(497,46.5)(510,45.7)(517,8.8)(525,0.8)(535,44.1)(550,53.8)(560,55.4)(575,49.8)(590,53.0)(600,46.5)(615,52.2)(630,47.4)(645,57.8)(660,52.2)(675,44.1)(685,53.8)(695,50.6)(705,32.1)(715,61.8)(725,57.0)(735,44.9)(750,44.1)(760,49.0)(775,32.9)(790,49.0)(800,0.8)(815,50.6)(830,52.2)(840,55.4)(850,49.8)(860,52.2)(870,40.9)(885,53.8)(900,50.6)(915,48.2)(930,45.7)(945,48.2)(960,45.7)(975,57.0)(985,47.4)(993,26.5)(1000,53.8)(1015,50.6)(1030,47.4)(1045,53.8)(1060,52.2)(1070,41.7)(1078,53.8)(1085,18.5)(1093,1.6)(1100,2.4)(1110,28.1)(1125,47.4)(1135,49.0)(1145,68.2)(1160,66.6)(1175,63.4)(1190,65.0)(1205,71.4)(1210,63.4)(1225,69.8)(1245,68.2)(1260,69.8)(1270,65.0)(1280,76.2)(1295,79.5)(1305,78.7)(1315,76.2)};
\addlegendentry{EPS{\cjk 开工率}}
\end{axis}
\end{tikzpicture}
\end{document}
